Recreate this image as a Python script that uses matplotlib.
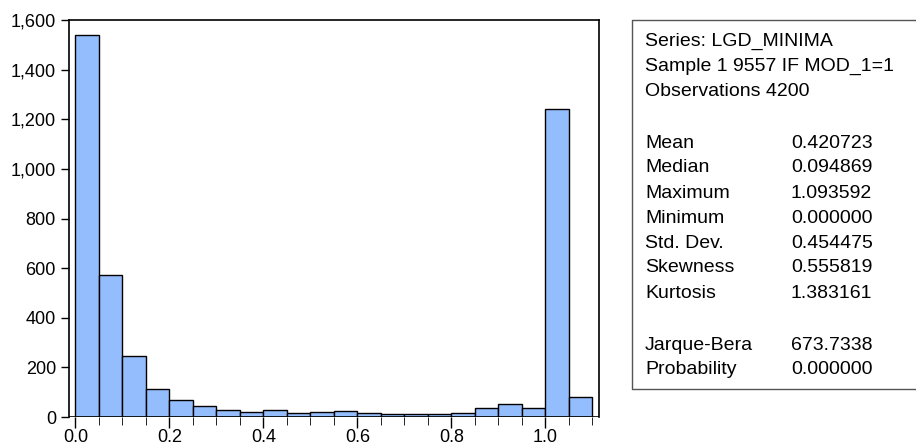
import numpy as np
import matplotlib
matplotlib.use('Agg')
import matplotlib.pyplot as plt
from matplotlib.ticker import FuncFormatter, MultipleLocator
from matplotlib.lines import Line2D

plt.rcParams['font.family'] = ['Liberation Sans', 'DejaVu Sans']

# histogram bins (width 0.05) and counts
bin_edges = [0.00, 0.05, 0.10, 0.15, 0.20, 0.25, 0.30, 0.35, 0.40, 0.45, 0.50,
             0.55, 0.60, 0.65, 0.70, 0.75, 0.80, 0.85, 0.90, 0.95, 1.00, 1.05, 1.10]
counts = [1540, 572, 247, 113, 68, 46, 27, 22, 28, 16, 21,
          24, 18, 12, 12, 12, 16, 36, 52, 35, 1242, 81]

header_lines = ['Series: LGD_MINIMA', 'Sample 1 9557 IF MOD_1=1', 'Observations 4200']
stat_names = ['Mean', 'Median', 'Maximum', 'Minimum', 'Std. Dev.', 'Skewness', 'Kurtosis']
stat_values = ['0.420723', '0.094869', '1.093592', '0.000000', '0.454475', '0.555819', '1.383161']
test_names = ['Jarque-Bera', 'Probability']
test_values = ['673.7338', '0.000000']

W, H = 916, 447
fig = plt.figure(figsize=(W / 100, H / 100), dpi=100)
ax = fig.add_axes([68.5 / W, 1 - 417 / H, (599 - 68.5) / W, (417 - 20) / H])

lefts = np.array(bin_edges[:-1])
widths = np.diff(bin_edges)
ax.bar(lefts, counts, width=widths, align='edge', color='#94bdfd',
       edgecolor='black', linewidth=1.0)

ax.set_xlim(-0.0145, 1.114)
ax.set_ylim(0, 1600)
ax.xaxis.set_major_locator(MultipleLocator(0.2))
ax.xaxis.set_minor_locator(MultipleLocator(0.05))
ax.yaxis.set_major_locator(MultipleLocator(200))
ax.xaxis.set_major_formatter(FuncFormatter(lambda v, p: f'{v:.1f}'))
ax.yaxis.set_major_formatter(FuncFormatter(lambda v, p: f'{v:,.0f}'))
ax.tick_params(axis='both', labelsize=13, direction='out', width=1, color='black')
ax.tick_params(axis='x', which='major', length=8, pad=1)
ax.tick_params(axis='x', which='minor', length=6)
ax.tick_params(axis='y', length=6, pad=3)
for s in ax.spines.values():
    s.set_linewidth(1.2)
ax.spines['bottom'].set_visible(False)
ax.axhline(0, color='black', linewidth=1.2)

# statistics box, open on the right (it runs off the picture there)
bx0, by0, by1 = 632 / W, 1 - 389 / H, 1 - 20 / H
fig.add_artist(Line2D([1.05, bx0, bx0, 1.05], [by1, by1, by0, by0],
                      transform=fig.transFigure, color='#555555', linewidth=1.0))

x_lab, x_val = 645 / W, 791 / W
fs = 14
for i, line in enumerate(header_lines):
    fig.text(x_lab, 1 - (41 + 25 * i) / H, line, fontsize=fs, va='center')
for i, (n, v) in enumerate(zip(stat_names, stat_values)):
    y = 1 - (143 + 25 * i) / H
    fig.text(x_lab, y, n, fontsize=fs, va='center')
    fig.text(x_val, y, v, fontsize=fs, va='center')
for i, (n, v) in enumerate(zip(test_names, test_values)):
    y = 1 - (345 + 25 * i) / H
    fig.text(x_lab, y, n, fontsize=fs, va='center')
    fig.text(x_val, y, v, fontsize=fs, va='center')

fig.savefig('out.png', dpi=100)
